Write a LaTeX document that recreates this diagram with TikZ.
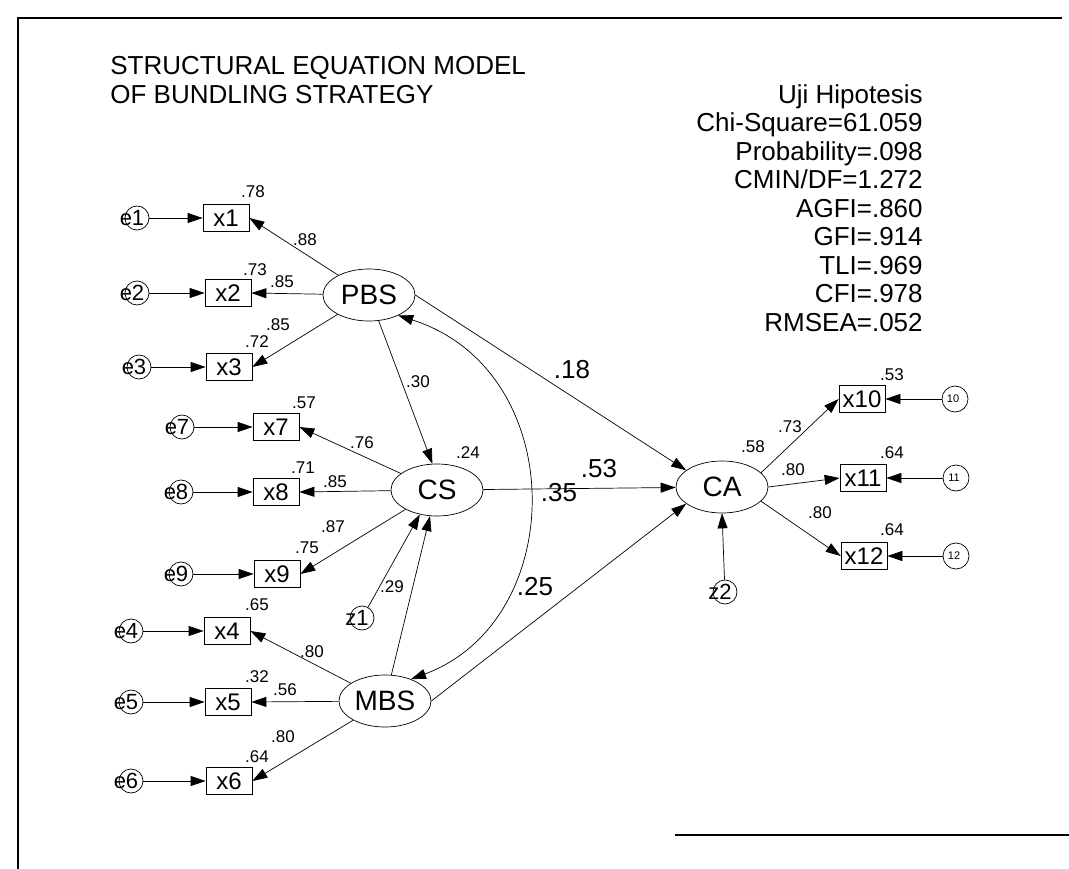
\documentclass[tikz,border=0pt]{standalone}
\usepackage{fontspec}
\setmainfont{Liberation Sans}
\usepackage{tikz}
\usetikzlibrary{arrows.meta}
\usetikzlibrary{shapes.geometric}

\begin{document}
\begin{tikzpicture}[
	  x=1pt, y=-1pt,
	  every path/.style = {line width=0.7pt},
	  >={Triangle[length=15pt,width=10pt]},
	  latent/.style = {ellipse, draw, minimum width=92pt, minimum height=52pt, inner sep=0pt, font=\fontsize{28}{30}\selectfont},
	  obs/.style = {rectangle, draw, minimum width=46pt, minimum height=27pt, inner sep=0pt, font=\fontsize{24}{26}\selectfont},
	  err/.style = {circle, draw, minimum size=24pt, inner sep=0pt, font=\fontsize{22}{24}\selectfont},
	  errsmall/.style = {circle, draw, minimum size=26pt, inner sep=0pt, font=\fontsize{11}{12}\selectfont},
	  lbl/.style = {inner sep=0pt, font=\fontsize{17}{18}\selectfont},
	  coef/.style = {inner sep=0pt, font=\fontsize{26}{28}\selectfont},
	  txtblock/.style = {inner sep=0pt, font=\fontsize{26}{28.5}\selectfont}
	]
	  \useasboundingbox (0,0) rectangle (1069,869);
	  % frame
	  \draw[line width=1.2pt] (18,869) -- (18,18) -- (1062,18);
	  \draw[line width=1.2pt] (675,835) -- (1069,835);

	  % headings
	  \node[txtblock, anchor=north west, align=left] (title) at (110,56)
	    {STRUCTURAL EQUATION MODEL\\OF BUNDLING STRATEGY};
	  \node[txtblock, anchor=east, align=right] (fit) at (923,208)
	    {Uji Hipotesis\\Chi-Square=61.059\\Probability=.098\\CMIN/DF=1.272\\AGFI=.860\\GFI=.914\\TLI=.969\\CFI=.978\\RMSEA=.052};

	  % latent variables
	  \node[latent] (PBS) at (369,295) {PBS};
	  \node[latent] (CS) at (437,490) {CS};
	  \node[latent] (MBS) at (385,701) {MBS};
	  \node[latent] (CA) at (722,487) {CA};

	  % indicators
	  \node[obs] (x1) at (226,218) {x1};
	  \node[obs] (x2) at (228,293) {x2};
	  \node[obs] (x3) at (229,367) {x3};
	  \node[obs] (x7) at (276,427) {x7};
	  \node[obs] (x8) at (276,492) {x8};
	  \node[obs] (x9) at (277,574) {x9};
	  \node[obs] (x4) at (227,631) {x4};
	  \node[obs] (x5) at (228,702) {x5};
	  \node[obs] (x6) at (229,781) {x6};
	  \node[obs] (x10) at (862,399) {x10};
	  \node[obs] (x11) at (863,478) {x11};
	  \node[obs] (x12) at (864,556) {x12};

	  % errors
	  \node[err] (e1) at (137,218) {\hspace*{-10pt}e1};
	  \node[err] (e2) at (137,293) {\hspace*{-10pt}e2};
	  \node[err] (e3) at (139,367) {\hspace*{-10pt}e3};
	  \node[err] (e7) at (182,427) {\hspace*{-10pt}e7};
	  \node[err] (e8) at (181,492) {\hspace*{-10pt}e8};
	  \node[err] (e9) at (181,574) {\hspace*{-10pt}e9};
	  \node[err] (e4) at (131,631) {\hspace*{-10pt}e4};
	  \node[err] (e5) at (131,702) {\hspace*{-10pt}e5};
	  \node[err] (e6) at (131,781) {\hspace*{-10pt}e6};
	  \node[errsmall] (e10) at (955,399) {\hspace*{-4pt}10};
	  \node[errsmall] (e11) at (956,478) {\hspace*{-4pt}11};
	  \node[errsmall] (e12) at (956,556) {\hspace*{-4pt}12};
	  \node[err] (z1) at (362,618) {\hspace*{-10pt}z1};
	  \node[err] (z2) at (725,592) {\hspace*{-10pt}z2};

	  % error paths
	  \draw[->] (e1) -- (x1);
	  \draw[->] (e2) -- (x2);
	  \draw[->] (e3) -- (x3);
	  \draw[->] (e7) -- (x7);
	  \draw[->] (e8) -- (x8);
	  \draw[->] (e9) -- (x9);
	  \draw[->] (e4) -- (x4);
	  \draw[->] (e5) -- (x5);
	  \draw[->] (e6) -- (x6);
	  \draw[->] (e10) -- (x10);
	  \draw[->] (e11) -- (x11);
	  \draw[->] (e12) -- (x12);
	  \draw[->] (z1) -- (CS.235);
	  \draw[->] (z2) -- (CA.south);

	  % loadings
	  \draw[->] (PBS) -- (x1.east);
	  \draw[->] (PBS) -- (x2.east);
	  \draw[->] (PBS) -- (x3.east);
	  \draw[->] (CS) -- (x7.east);
	  \draw[->] (CS) -- (x8.east);
	  \draw[->] (CS) -- (x9.east);
	  \draw[->] (MBS) -- (x4.east);
	  \draw[->] (MBS) -- (x5.east);
	  \draw[->] (MBS) -- (x6.east);
	  \draw[->] (CA.20) -- (x10.west);
	  \draw[->] (CA.east) -- (x11.west);
	  \draw[->] (CA.-20) -- (x12.west);

	  % structural paths
	  \draw[->] (PBS) -- (CS.100);
	  \draw[->] (MBS) -- (CS.255);
	  \draw[->] (PBS.east) -- (CA.155);
	  \draw[->] (CS) -- (CA);
	  \draw[->] (MBS.east) -- (CA.205);
	  \draw[<->] (PBS.-35) .. controls (570,370) and (570,620) .. (MBS.40);

	  % estimates
	  \node[lbl] (r1) at (253,192) {.78};
	  \node[lbl] (l1) at (305,240) {.88};
	  \node[lbl] (r2) at (255,270) {.73};
	  \node[lbl] (l2) at (282,282) {.85};
	  \node[lbl] (r3) at (257,342) {.72};
	  \node[lbl] (l3) at (278,325) {.85};
	  \node[lbl] (r7) at (304,403) {.57};
	  \node[lbl] (l7) at (362,443) {.76};
	  \node[lbl] (r8) at (303,468) {.71};
	  \node[lbl] (l8) at (335,482) {.85};
	  \node[lbl] (r9) at (307,548) {.75};
	  \node[lbl] (l9) at (333,527) {.87};
	  \node[lbl] (r4) at (257,605) {.65};
	  \node[lbl] (l4) at (312,652) {.80};
	  \node[lbl] (r5) at (257,677) {.32};
	  \node[lbl] (l5) at (285,690) {.56};
	  \node[lbl] (r6) at (257,757) {.64};
	  \node[lbl] (l6) at (283,737) {.80};
	  \node[lbl] (r10) at (892,375) {.53};
	  \node[lbl] (l10) at (790,427) {.73};
	  \node[lbl] (r11) at (892,453) {.64};
	  \node[lbl] (l11) at (793,470) {.80};
	  \node[lbl] (r12) at (892,530) {.64};
	  \node[lbl] (l12) at (820,513) {.80};
	  \node[lbl] (rCS) at (468,453) {.24};
	  \node[lbl] (rCA) at (753,447) {.58};
	  \node[lbl] (bPC) at (418,382) {.30};
	  \node[lbl] (bMC) at (392,587) {.29};
	  \node[coef] (bPA) at (572,370) {.18};
	  \node[coef] (bCA) at (599,469) {.53};
	  \node[coef] (cPM) at (559,493) {.35};
	  \node[coef] (bMA) at (535,587) {.25};
	\end{tikzpicture}
\end{document}
